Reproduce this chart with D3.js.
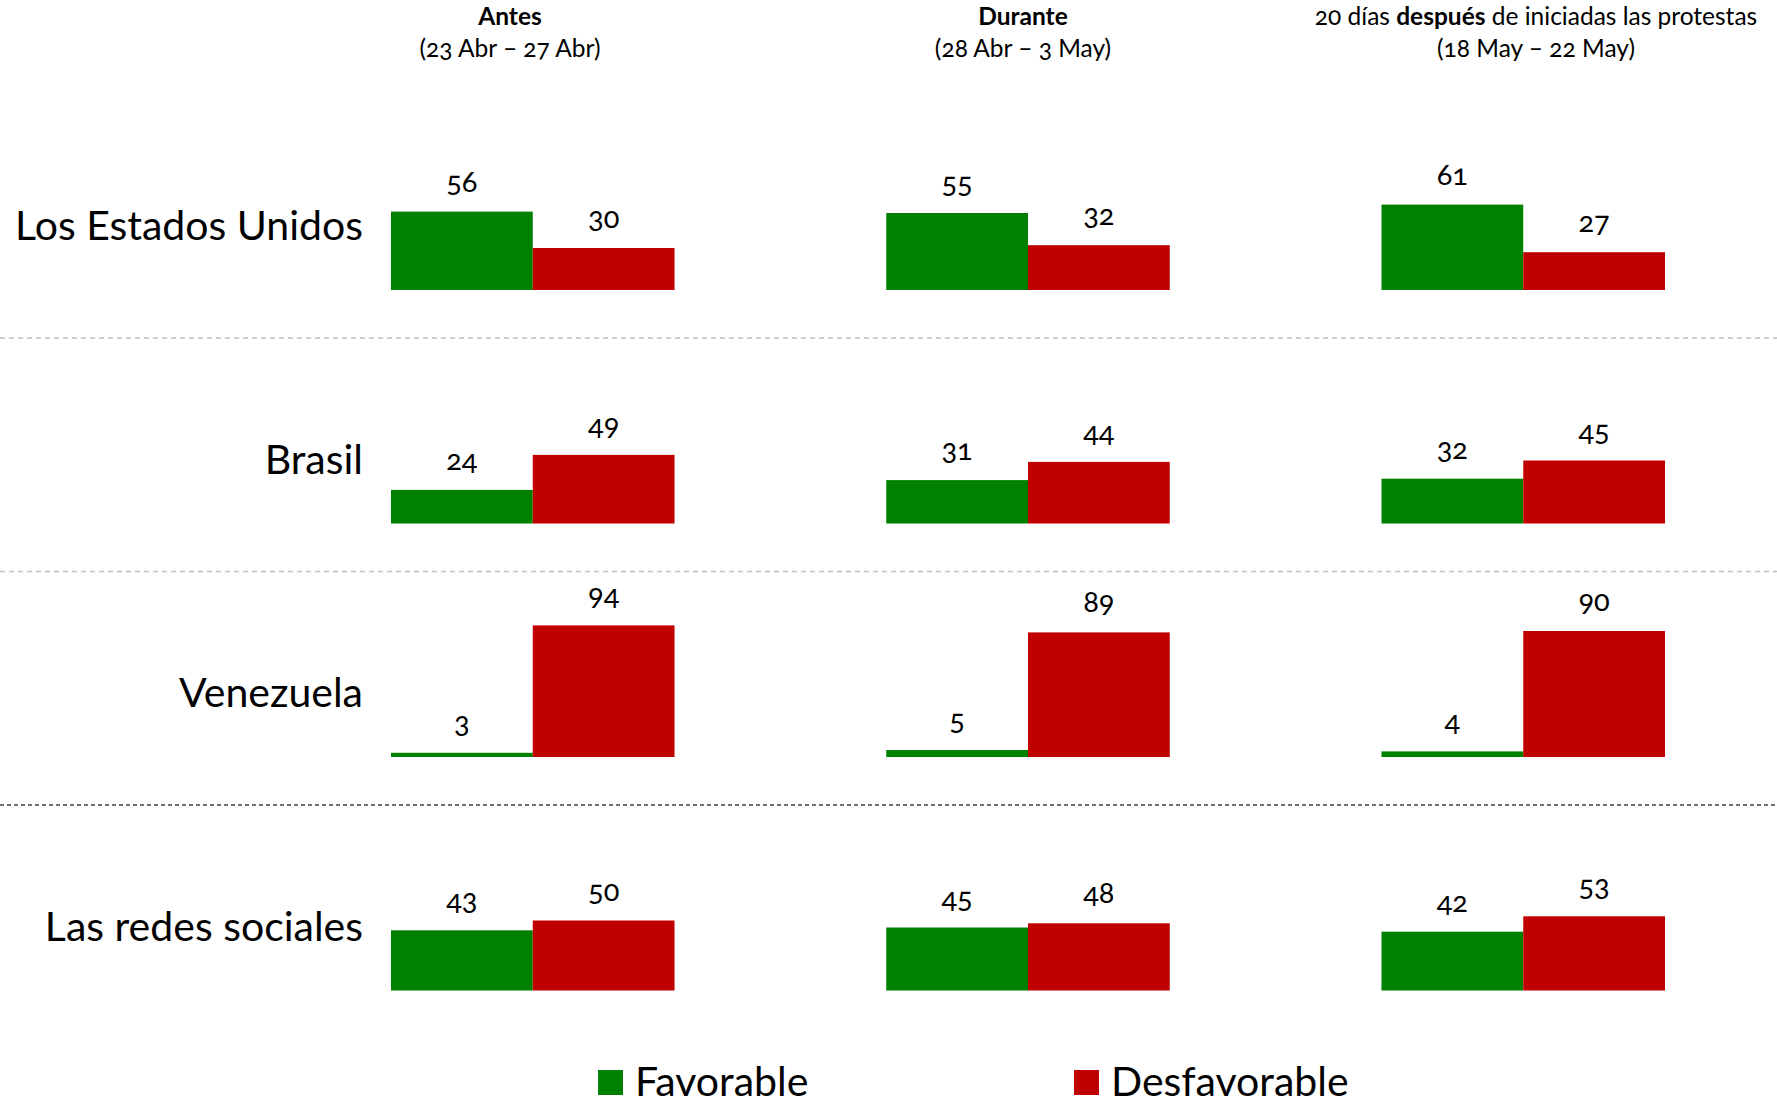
<!DOCTYPE html>
<html>
<head>
<meta charset="utf-8">
<script src="https://cdn.jsdelivr.net/npm/d3@7"></script>
<style>
  body { margin: 0; background: #fff; }
  svg text { font-family: Lato, "Open Sans", sans-serif; fill: #000; font-variant-numeric: oldstyle-nums; }
</style>
</head>
<body>
<div id="chart"></div>
<script>
// data
var rows = ["Los Estados Unidos", "Brasil", "Venezuela", "Las redes sociales"];
var periods = ["antes", "durante", "despues"];
var series = ["Favorable", "Desfavorable"];

var favorable = [
  [56, 55, 61],
  [24, 31, 32],
  [3, 5, 4],
  [43, 45, 42]
];
var desfavorable = [
  [30, 32, 27],
  [49, 44, 45],
  [94, 89, 90],
  [50, 48, 53]
];

// header lines, each a list of [text, bold]
var headerLine1 = [
  [["Antes", true]],
  [["Durante", true]],
  [["20 días ", false], ["después", true], [" de iniciadas las protestas", false]]
];
var headerLine2 = ["(23 Abr – 27 Abr)", "(28 Abr – 3 May)", "(18 May – 22 May)"];
var headerCenters = [510, 1023, 1536];

var colors = { Favorable: "#008000", Desfavorable: "#c00000" };

var width = 1777, height = 1107;

var svg = d3.select("#chart").append("svg")
  .attr("width", width)
  .attr("height", height);

// scales
var xGroup = d3.scaleBand().domain(periods).range([391, 1665]).paddingInner(0.4275).paddingOuter(0);
var xInner = d3.scaleBand().domain(series).range([0, xGroup.bandwidth()]);
var yRow = d3.scalePoint().domain(rows).range([290, 990.5]);
var hScale = d3.scaleLinear().domain([0, 100]).range([0, 140]);

// build flat list of bars
var bars = [];
rows.forEach(function (r, i) {
  periods.forEach(function (p, j) {
    bars.push({ row: r, period: p, serie: "Favorable", value: favorable[i][j] });
    bars.push({ row: r, period: p, serie: "Desfavorable", value: desfavorable[i][j] });
  });
});

// separator lines
var seps = [
  { row: rows[0], color: "#bfbfbf", dash: "5,4" },
  { row: rows[1], color: "#bfbfbf", dash: "5,4" },
  { row: rows[2], color: "#404040", dash: "4,3" }
];
svg.selectAll("line.sep")
  .data(seps)
  .enter().append("line")
  .attr("class", "sep")
  .attr("x1", 0)
  .attr("x2", width)
  .attr("y1", function (d) { return yRow(d.row) + 48; })
  .attr("y2", function (d) { return yRow(d.row) + 48; })
  .attr("stroke", function (d) { return d.color; })
  .attr("stroke-width", 1.3)
  .attr("stroke-dasharray", function (d) { return d.dash; });

// bars
svg.selectAll("rect.bar")
  .data(bars)
  .enter().append("rect")
  .attr("class", "bar")
  .attr("x", function (d) { return xGroup(d.period) + xInner(d.serie); })
  .attr("y", function (d) { return yRow(d.row) - hScale(d.value); })
  .attr("width", xInner.bandwidth())
  .attr("height", function (d) { return hScale(d.value); })
  .attr("fill", function (d) { return colors[d.serie]; });

// value labels
svg.selectAll("text.val")
  .data(bars)
  .enter().append("text")
  .attr("class", "val")
  .attr("x", function (d) { return xGroup(d.period) + xInner(d.serie) + xInner.bandwidth() / 2; })
  .attr("y", function (d) { return yRow(d.row) - hScale(d.value) - 20; })
  .attr("text-anchor", "middle")
  .style("font-size", "29px")
  .text(function (d) { return d.value; });

// row labels
svg.selectAll("text.rowlab")
  .data(rows)
  .enter().append("text")
  .attr("class", "rowlab")
  .attr("x", 363)
  .attr("y", function (d) { return yRow(d) - 50; })
  .attr("text-anchor", "end")
  .style("font-size", "41px")
  .text(function (d) { return d; });

// headers
var h1 = svg.selectAll("text.head1")
  .data(headerLine1)
  .enter().append("text")
  .attr("class", "head1")
  .attr("x", function (d, i) { return headerCenters[i]; })
  .attr("y", 25)
  .attr("text-anchor", "middle")
  .style("font-size", "24.5px");
h1.selectAll("tspan")
  .data(function (d) { return d; })
  .enter().append("tspan")
  .style("font-weight", function (d) { return d[1] ? "bold" : "normal"; })
  .text(function (d) { return d[0]; });

svg.selectAll("text.head2")
  .data(headerLine2)
  .enter().append("text")
  .attr("class", "head2")
  .attr("x", function (d, i) { return headerCenters[i]; })
  .attr("y", 57)
  .attr("text-anchor", "middle")
  .style("font-size", "24.5px")
  .text(function (d) { return d; });

// legend
var legendX = [598, 1074];
var legend = svg.selectAll("g.legend")
  .data(series)
  .enter().append("g")
  .attr("class", "legend")
  .attr("transform", function (d, i) { return "translate(" + legendX[i] + ",1070)"; });
legend.append("rect")
  .attr("width", 25)
  .attr("height", 25)
  .attr("fill", function (d) { return colors[d]; });
legend.append("text")
  .attr("x", 37)
  .attr("y", 26)
  .style("font-size", "41px")
  .text(function (d) { return d; });
</script>
</body>
</html>
